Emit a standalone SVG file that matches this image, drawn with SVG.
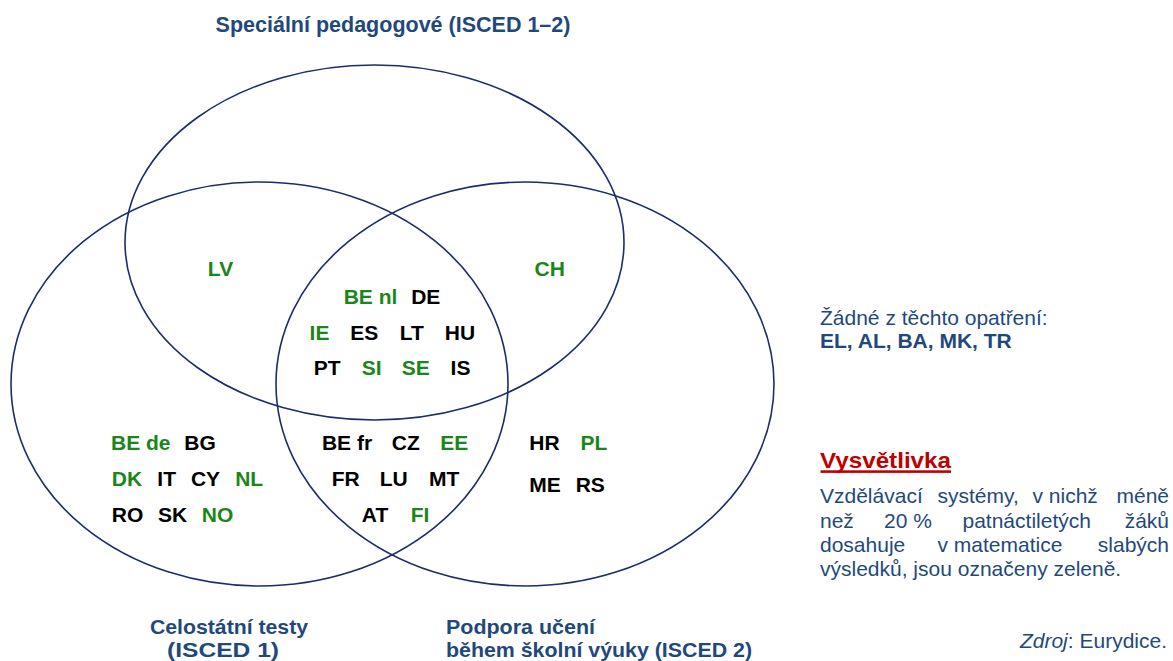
<svg xmlns="http://www.w3.org/2000/svg" width="1173" height="661" viewBox="0 0 1173 661">
<style>
text{font-family:"Liberation Sans",Arial,sans-serif;}
.lbl{font-size:21px;font-weight:bold;text-anchor:middle;}
.g{fill:#1A861A;}
.k{fill:#000000;}
.ttl{font-size:21.5px;font-weight:bold;fill:#1F497D;}
.sub{font-size:20.5px;font-weight:bold;fill:#1F497D;}
.txt{font-size:21px;fill:#1F497D;}
.ell{fill:none;stroke:#1B2D6B;stroke-width:1.6;}
</style>
<rect width="1173" height="661" fill="#ffffff"/>
<g id="set-special">
<ellipse class="ell" cx="374.5" cy="242.5" rx="249.5" ry="177.5"/>
<text class="ttl" x="393" y="32" text-anchor="middle">Speciální pedagogové (ISCED 1–2)</text>
</g>
<g id="set-national-tests">
<ellipse class="ell" cx="259.5" cy="384" rx="248.5" ry="202"/>
<text class="sub" x="150" y="633.5" textLength="158" lengthAdjust="spacingAndGlyphs">Celostátní testy</text>
<text class="sub" x="167" y="656.5" textLength="112" lengthAdjust="spacingAndGlyphs">(ISCED 1)</text>
</g>
<g id="set-learning-support">
<ellipse class="ell" cx="525" cy="384" rx="249" ry="202"/>
<text class="sub" x="446" y="633.5" textLength="149" lengthAdjust="spacingAndGlyphs">Podpora učení</text>
<text class="sub" x="446" y="656.5" textLength="306" lengthAdjust="spacingAndGlyphs">během školní výuky (ISCED 2)</text>
</g>
<g id="connectors"></g>
<g id="region-special-tests">
<text class="lbl g" x="220.5" y="276">LV</text>
</g>
<g id="region-special-support">
<text class="lbl g" x="549.7" y="276">CH</text>
</g>
<g id="region-all">
<text class="lbl g" x="370.5" y="303.5">BE nl</text>
<text class="lbl k" x="425.8" y="303.5">DE</text>
<text class="lbl g" x="319.5" y="340">IE</text>
<text class="lbl k" x="364.2" y="340">ES</text>
<text class="lbl k" x="411.7" y="340">LT</text>
<text class="lbl k" x="460" y="340">HU</text>
<text class="lbl k" x="327.2" y="375">PT</text>
<text class="lbl g" x="371.7" y="375">SI</text>
<text class="lbl g" x="415.8" y="375">SE</text>
<text class="lbl k" x="460.5" y="375">IS</text>
</g>
<g id="region-tests">
<text class="lbl g" x="140.8" y="449.5">BE de</text>
<text class="lbl k" x="200" y="449.5">BG</text>
<text class="lbl g" x="127" y="486">DK</text>
<text class="lbl k" x="166.7" y="486">IT</text>
<text class="lbl k" x="205.5" y="486">CY</text>
<text class="lbl g" x="249.2" y="486">NL</text>
<text class="lbl k" x="127.5" y="521.7">RO</text>
<text class="lbl k" x="172.5" y="521.7">SK</text>
<text class="lbl g" x="217.5" y="521.7">NO</text>
</g>
<g id="region-tests-support">
<text class="lbl k" x="347" y="449.5">BE fr</text>
<text class="lbl k" x="405.8" y="449.5">CZ</text>
<text class="lbl g" x="454.2" y="449.5">EE</text>
<text class="lbl k" x="345.8" y="486">FR</text>
<text class="lbl k" x="393.8" y="486">LU</text>
<text class="lbl k" x="444.2" y="486">MT</text>
<text class="lbl k" x="375" y="521.7">AT</text>
<text class="lbl g" x="420" y="521.7">FI</text>
</g>
<g id="region-support">
<text class="lbl k" x="544.5" y="450">HR</text>
<text class="lbl g" x="593.8" y="450">PL</text>
<text class="lbl k" x="545" y="491.7">ME</text>
<text class="lbl k" x="590.3" y="491.7">RS</text>
</g>
<g id="none">
<text class="txt" x="820" y="325">Žádné z těchto opatření:</text>
<text class="txt" x="820" y="348" font-weight="bold">EL, AL, BA, MK, TR</text>
</g>
<g id="legend">
<text x="820" y="468" font-size="22" font-weight="bold" fill="#C00000" textLength="131" lengthAdjust="spacingAndGlyphs">Vysvětlivka</text>
<rect x="820.5" y="470.3" width="130.5" height="2.6" fill="#C00000"/>
<text class="txt" y="503.3"><tspan x="820">Vzdělávací</tspan><tspan x="937.5">systémy,</tspan><tspan x="1032.5">v nichž</tspan></text>
<text class="txt" x="1169" y="503.3" text-anchor="end">méně</text>
<text class="txt" y="527.5"><tspan x="820">než</tspan><tspan x="884">20 %</tspan><tspan x="962.5">patnáctiletých</tspan></text>
<text class="txt" x="1169" y="527.5" text-anchor="end">žáků</text>
<text class="txt" y="552"><tspan x="820">dosahuje</tspan><tspan x="937.5">v matematice</tspan></text>
<text class="txt" x="1169" y="552" text-anchor="end">slabých</text>
<text class="txt" x="820" y="576">výsledků, jsou označeny zeleně.</text>
</g>
<g id="source">
<text class="txt" x="1167" y="648" text-anchor="end"><tspan font-style="italic">Zdroj</tspan>: Eurydice.</text>
</g>
</svg>
